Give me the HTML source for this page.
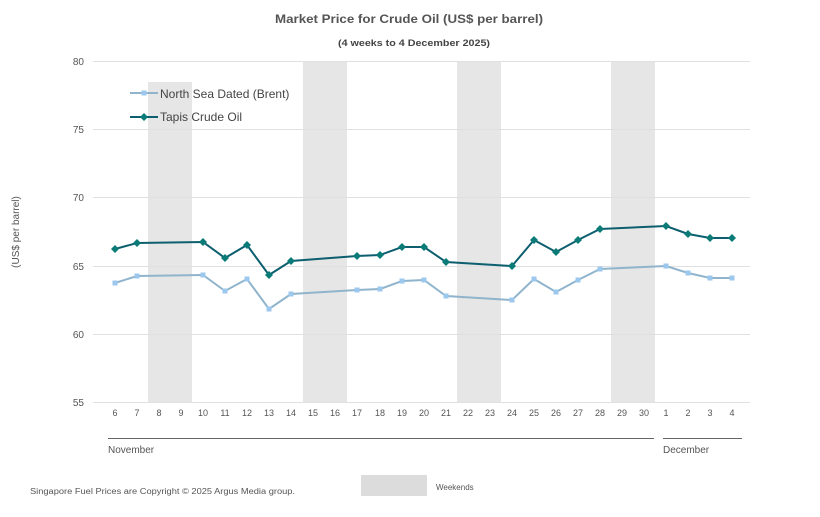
<!DOCTYPE html>
<html><head><style>
body{margin:0;background:#fff;}
text{font-family:"Liberation Sans",Arial,sans-serif;}
</style></head><body>
<svg width="820" height="512" viewBox="0 0 820 512" xmlns="http://www.w3.org/2000/svg">
<rect width="820" height="512" fill="#fff"/>
<text x="275" y="23" textLength="268" lengthAdjust="spacingAndGlyphs" font-size="12" font-weight="bold" fill="#555">Market Price for Crude  Oil (US$ per barrel)</text>
<text x="338" y="46" textLength="152" lengthAdjust="spacingAndGlyphs" font-size="9" font-weight="bold" fill="#444">(4 weeks to 4 December 2025)</text>
<g fill="#e6e6e6">
<rect x="148" y="82" width="44" height="320"/>
<rect x="303" y="61" width="44" height="341"/>
<rect x="457" y="61" width="44" height="341"/>
<rect x="611" y="61" width="44" height="341"/>
</g>
<g stroke="#e0e0e0" stroke-width="1">
<line x1="93" x2="750" y1="61.5" y2="61.5"/><line x1="93" x2="750" y1="129.5" y2="129.5"/>
<line x1="93" x2="750" y1="197.5" y2="197.5"/><line x1="93" x2="750" y1="266.5" y2="266.5"/>
<line x1="93" x2="750" y1="334.5" y2="334.5"/><line x1="93" x2="750" y1="402.5" y2="402.5"/>
</g>
<g font-size="10" fill="#555" text-anchor="end">
<text x="84" y="65">80</text><text x="84" y="133">75</text><text x="84" y="201">70</text>
<text x="84" y="270">65</text><text x="84" y="338">60</text><text x="84" y="406">55</text>
</g>
<text transform="translate(19,232) rotate(-90)" text-anchor="middle" font-size="10" fill="#555">(US$ per barrel)</text>
<g font-size="9" fill="#555" text-anchor="middle">
<text x="115" y="416">6</text><text x="137" y="416">7</text><text x="159" y="416">8</text><text x="181" y="416">9</text><text x="203" y="416">10</text><text x="225" y="416">11</text><text x="247" y="416">12</text><text x="269" y="416">13</text><text x="291" y="416">14</text><text x="313" y="416">15</text><text x="335" y="416">16</text><text x="357" y="416">17</text><text x="380" y="416">18</text><text x="402" y="416">19</text><text x="424" y="416">20</text><text x="446" y="416">21</text><text x="468" y="416">22</text><text x="490" y="416">23</text><text x="512" y="416">24</text><text x="534" y="416">25</text><text x="556" y="416">26</text><text x="578" y="416">27</text><text x="600" y="416">28</text><text x="622" y="416">29</text><text x="644" y="416">30</text><text x="666" y="416">1</text><text x="688" y="416">2</text><text x="710" y="416">3</text><text x="732" y="416">4</text>
</g>
<line x1="108" x2="654" y1="438.5" y2="438.5" stroke="#666"/>
<line x1="663" x2="742" y1="438.5" y2="438.5" stroke="#666"/>
<text x="108" y="453" font-size="10" fill="#555">November</text>
<text x="663" y="453" font-size="10" fill="#555">December</text>
<polyline fill="none" stroke="#8fb4cc" stroke-width="2" points="115,283 137,276 203,275 225,291 247,279 269,309 291,294 357,290 380,289 402,281 424,280 446,296 512,300 534,279 556,292 578,280 600,269 666,266 688,273 710,278 732,278"/>
<g fill="#9dc8ee">
<rect x="112.5" y="280.5" width="5" height="5"/><rect x="134.5" y="273.5" width="5" height="5"/><rect x="200.5" y="272.5" width="5" height="5"/><rect x="222.5" y="288.5" width="5" height="5"/><rect x="244.5" y="276.5" width="5" height="5"/><rect x="266.5" y="306.5" width="5" height="5"/><rect x="288.5" y="291.5" width="5" height="5"/><rect x="354.5" y="287.5" width="5" height="5"/><rect x="377.5" y="286.5" width="5" height="5"/><rect x="399.5" y="278.5" width="5" height="5"/><rect x="421.5" y="277.5" width="5" height="5"/><rect x="443.5" y="293.5" width="5" height="5"/><rect x="509.5" y="297.5" width="5" height="5"/><rect x="531.5" y="276.5" width="5" height="5"/><rect x="553.5" y="289.5" width="5" height="5"/><rect x="575.5" y="277.5" width="5" height="5"/><rect x="597.5" y="266.5" width="5" height="5"/><rect x="663.5" y="263.5" width="5" height="5"/><rect x="685.5" y="270.5" width="5" height="5"/><rect x="707.5" y="275.5" width="5" height="5"/><rect x="729.5" y="275.5" width="5" height="5"/>
</g>
<polyline fill="none" stroke="#0d5f6f" stroke-width="2" points="115,249 137,243 203,242 225,258 247,245 269,275 291,261 357,256 380,255 402,247 424,247 446,262 512,266 534,240 556,252 578,240 600,229 666,226 688,234 710,238 732,238"/>
<g fill="#0b7b78">
<path d="M115,245l4,4l-4,4l-4,-4z"/><path d="M137,239l4,4l-4,4l-4,-4z"/><path d="M203,238l4,4l-4,4l-4,-4z"/><path d="M225,254l4,4l-4,4l-4,-4z"/><path d="M247,241l4,4l-4,4l-4,-4z"/><path d="M269,271l4,4l-4,4l-4,-4z"/><path d="M291,257l4,4l-4,4l-4,-4z"/><path d="M357,252l4,4l-4,4l-4,-4z"/><path d="M380,251l4,4l-4,4l-4,-4z"/><path d="M402,243l4,4l-4,4l-4,-4z"/><path d="M424,243l4,4l-4,4l-4,-4z"/><path d="M446,258l4,4l-4,4l-4,-4z"/><path d="M512,262l4,4l-4,4l-4,-4z"/><path d="M534,236l4,4l-4,4l-4,-4z"/><path d="M556,248l4,4l-4,4l-4,-4z"/><path d="M578,236l4,4l-4,4l-4,-4z"/><path d="M600,225l4,4l-4,4l-4,-4z"/><path d="M666,222l4,4l-4,4l-4,-4z"/><path d="M688,230l4,4l-4,4l-4,-4z"/><path d="M710,234l4,4l-4,4l-4,-4z"/><path d="M732,234l4,4l-4,4l-4,-4z"/>
</g>
<line x1="130" x2="158" y1="93" y2="93" stroke="#8fb4cc" stroke-width="2"/>
<rect x="141.5" y="90.5" width="5" height="5" fill="#9dc8ee"/>
<text x="160" y="98" font-size="12" fill="#444">North Sea Dated (Brent)</text>
<line x1="130" x2="158" y1="117" y2="117" stroke="#0d5f6f" stroke-width="2"/>
<path d="M144,113l4,4l-4,4l-4,-4z" fill="#0b7b78"/>
<text x="160" y="121" font-size="12" fill="#444">Tapis Crude Oil</text>
<text x="30" y="494" textLength="265" lengthAdjust="spacingAndGlyphs" font-size="8" fill="#555">Singapore  Fuel Prices are  Copyright © 2025 Argus Media  group.</text>
<rect x="361" y="475" width="66" height="21" fill="#dcdcdc"/>
<text x="436" y="490" font-size="8" fill="#555">Weekends</text>
</svg>
</body></html>
